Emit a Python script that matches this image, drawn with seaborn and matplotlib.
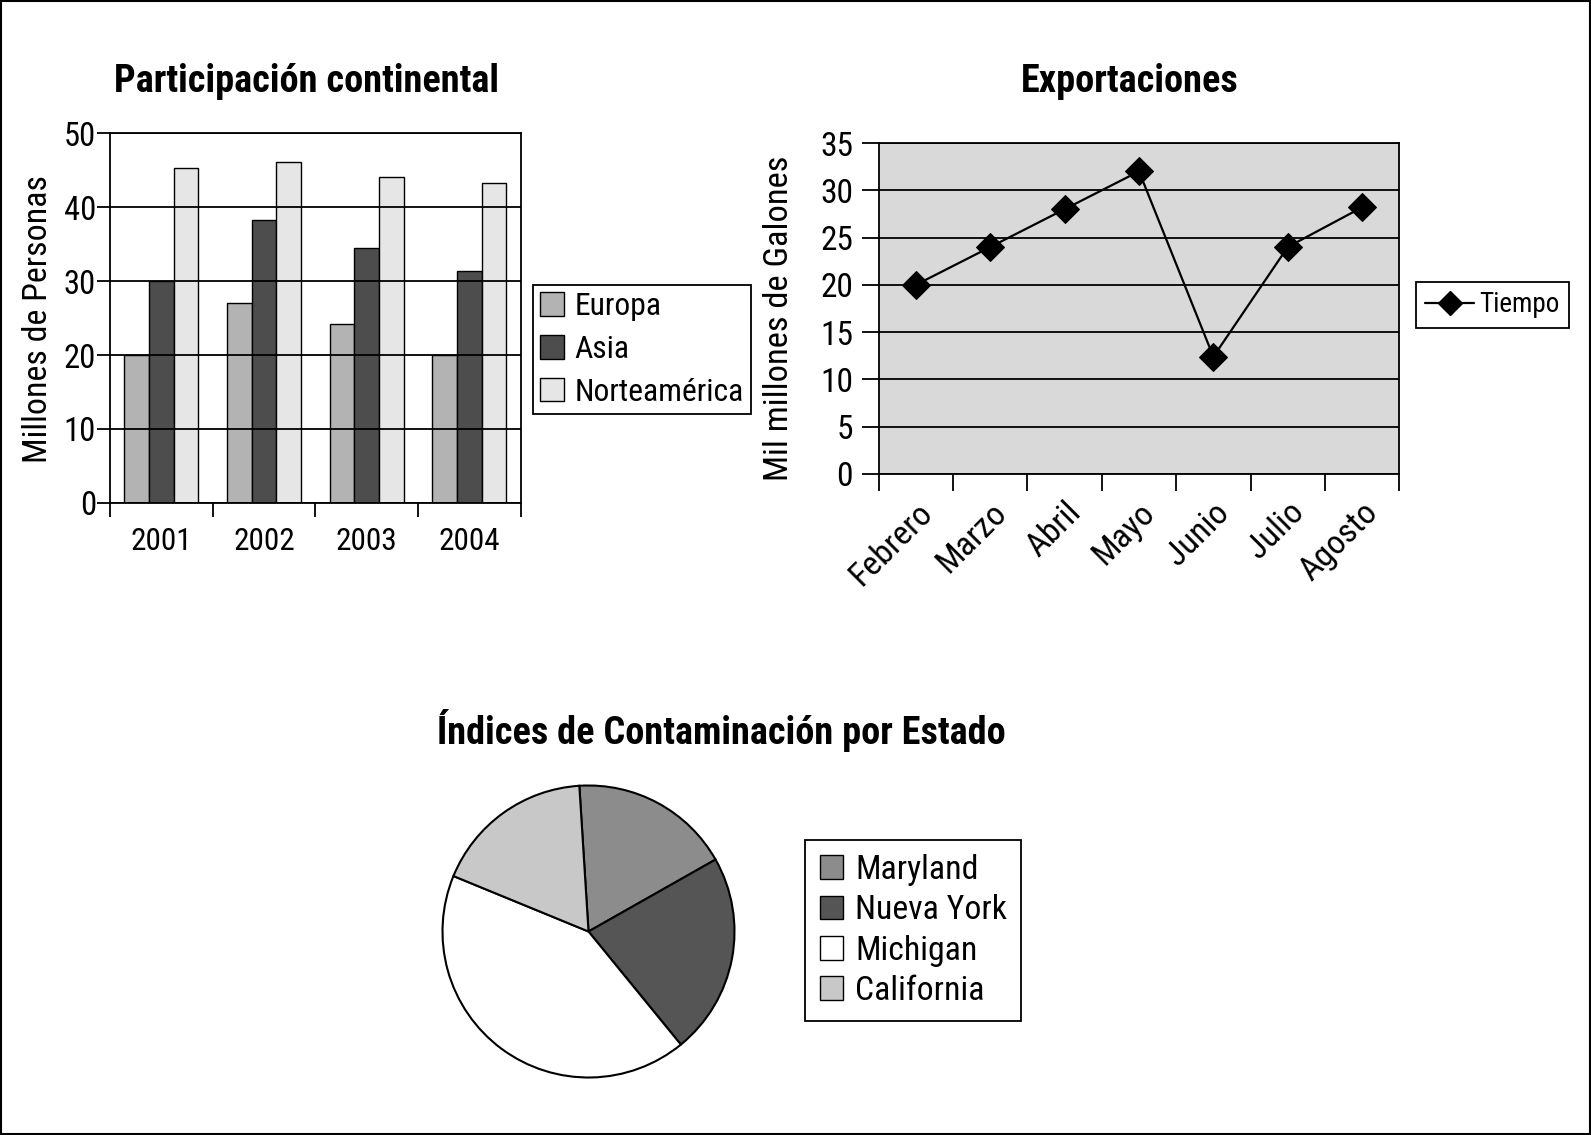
import numpy as np
import pandas as pd
import matplotlib
matplotlib.use("Agg")
import matplotlib.pyplot as plt
import seaborn as sns
from matplotlib import font_manager as fm
from matplotlib.patches import Rectangle, Patch
from matplotlib.lines import Line2D

# ---------------- data ----------------
years = ["2001", "2002", "2003", "2004"]
regions = ["Europa", "Asia", "Norteamérica"]
europa = [20, 27, 24.2, 20]
asia = [30, 38.2, 34.5, 31.3]
norteamerica = [45.3, 46.1, 44.1, 43.2]

months = ["Febrero", "Marzo", "Abril", "Mayo", "Junio", "Julio", "Agosto"]
tiempo = [20, 24, 28, 32, 12.4, 24, 28.2]

states = ["Maryland", "Nueva York", "Michigan", "California"]
indices = [17.8, 22.3, 42.1, 17.8]

bar_colors = ["#b3b3b3", "#4d4d4d", "#e6e6e6"]
pie_colors = ["#8c8c8c", "#555555", "#ffffff", "#c8c8c8"]

# ---------------- style ----------------
sns.set_theme(style="ticks")
avail = sorted({f.name for f in fm.fontManager.ttflist})
cond = None
for cand in ["Roboto Condensed", "Liberation Sans Narrow", "Open Sans Condensed",
             "Noto Sans Condensed", "DejaVu Sans Condensed"]:
    if cand in avail:
        cond = cand
        break
if cond is None:
    for n in avail:
        if "Narrow" in n or "Condensed" in n:
            cond = n
            break
if cond is None:
    cond = "DejaVu Sans"
plt.rcParams["font.family"] = [cond, "DejaVu Sans"]
plt.rcParams["text.color"] = "black"
plt.rcParams["axes.edgecolor"] = "black"
plt.rcParams["xtick.color"] = "black"
plt.rcParams["ytick.color"] = "black"

W, H = 1591, 1135
fig = plt.figure(figsize=(W / 100, H / 100), dpi=100)
fig.patch.set_facecolor("white")


def fx(px):
    return px / W


def fy(py):
    return 1 - py / H


TITLE = 27.5

# ---------------- bar chart ----------------
ax1 = fig.add_axes([fx(110), fy(503), fx(520.5 - 110), (503 - 133) / H])
df = pd.DataFrame({
    "year": years * 3,
    "region": [r for r in regions for _ in years],
    "value": europa + asia + norteamerica,
})
sns.barplot(data=df, x="year", y="value", hue="region", order=years, hue_order=regions,
            palette=bar_colors, width=0.72, saturation=1, edgecolor="black",
            linewidth=1.0, ax=ax1, legend=False, errorbar=None)
ax1.set_xlim(-0.5, 3.5)
ax1.set_ylim(0, 50)
ax1.set_yticks(np.arange(0, 51, 10))
ax1.set_xticks(np.arange(-0.5, 4, 1))
ax1.set_xticklabels([])
ax1.set_xticks(np.arange(0, 4), minor=True)
ax1.set_xticklabels(years, minor=True)
ax1.tick_params(axis="x", which="major", direction="out", length=10, width=1.3)
ax1.tick_params(axis="x", which="minor", length=0, pad=17, labelsize=22.5)
ax1.tick_params(axis="y", direction="out", length=9.5, width=1.3, labelsize=23.5, pad=0.5)
ax1.yaxis.grid(True, color="black", lw=1.3)
ax1.set_axisbelow(False)
for s in ax1.spines.values():
    s.set_visible(True)
    s.set_linewidth(1.3)
    s.set_color("black")
ax1.set_xlabel("")
ax1.set_ylabel("")
fig.text(fx(38), fy(319), "Millones de Personas", rotation=90, ha="center", va="center",
         fontsize=24.4)
fig.text(fx(307), fy(81), "Participación continental", ha="center", va="center",
         fontsize=TITLE, fontweight="bold")

h1 = [Patch(facecolor=c, edgecolor="black", lw=1.0) for c in bar_colors]
fig.legend(h1, regions, loc="center", bbox_to_anchor=(fx(641.8), fy(349.5)), fontsize=22.8,
           frameon=True, fancybox=False, edgecolor="black", framealpha=1,
           handlelength=0.75, handleheight=0.75, handletextpad=0.35, labelspacing=0.44,
           borderpad=0.22, borderaxespad=0).get_frame().set_linewidth(1.3)

# ---------------- line chart ----------------
ax2 = fig.add_axes([fx(878.7), fy(474), fx(1399.3 - 878.7), (474 - 143) / H])
ax2.set_facecolor("#d9d9d9")
dfl = pd.DataFrame({"mes": months, "valor": tiempo})
sns.lineplot(data=dfl, x="mes", y="valor", sort=False, color="black", lw=1.6,
             marker="D", markersize=14, markeredgecolor="black", ax=ax2, zorder=3)
ax2.set_xlim(-0.5, 6.5)
ax2.set_ylim(0, 35)
ax2.set_yticks(np.arange(0, 36, 5))
ax2.set_xticks(np.arange(-0.5, 7, 1))
ax2.set_xticklabels([])
ax2.set_xticks(np.arange(0, 7), minor=True)
ax2.set_xticklabels(months, minor=True, rotation=45, ha="right", rotation_mode="anchor")
ax2.tick_params(axis="x", which="major", direction="out", length=12, width=1.3)
ax2.tick_params(axis="x", which="minor", length=0, pad=16, labelsize=24.5)
ax2.tick_params(axis="y", direction="out", length=12, width=1.3, labelsize=24, pad=6.5)
ax2.yaxis.grid(True, color="black", lw=1.3, zorder=1)
ax2.set_axisbelow(True)
for s in ax2.spines.values():
    s.set_visible(True)
    s.set_linewidth(1.3)
    s.set_color("black")
ax2.set_xlabel("")
ax2.set_ylabel("")
fig.text(fx(779), fy(318), "Mil millones de Galones", rotation=90, ha="center", va="center",
         fontsize=24.8)
fig.text(fx(1130), fy(81), "Exportaciones", ha="center", va="center",
         fontsize=TITLE, fontweight="bold")
h2 = [Line2D([], [], color="black", lw=1.6, marker="D", markersize=12)]
fig.legend(h2, ["Tiempo"], loc="center", bbox_to_anchor=(fx(1492.6), fy(305)), fontsize=19.5,
           frameon=True, fancybox=False, edgecolor="black", framealpha=1,
           handlelength=1.8, handletextpad=0.2, borderpad=0.35,
           borderaxespad=0).get_frame().set_linewidth(1.3)

# ---------------- pie chart ----------------
R = 146
ax3 = fig.add_axes([fx(588.5 - R), fy(931.5 + R), 2 * R / W, 2 * R / H])
ax3.pie(indices, colors=pie_colors, startangle=93.6, counterclock=False,
        wedgeprops=dict(edgecolor="black", linewidth=1.5))
ax3.set_xlim(-1.0, 1.0)
ax3.set_ylim(-1.0, 1.0)
ax3.set_aspect("equal")
ax3.axis("off")
fig.text(fx(721), fy(731), "Índices de Contaminación por Estado", ha="center", va="center",
         fontsize=TITLE, fontweight="bold")
h3 = [Patch(facecolor=c, edgecolor="black", lw=1.0) for c in pie_colors]
fig.legend(h3, states, loc="center", bbox_to_anchor=(fx(913.3), fy(930.4)), fontsize=24.3,
           frameon=True, fancybox=False, edgecolor="black", framealpha=1,
           handlelength=0.7, handleheight=0.7, handletextpad=0.35, labelspacing=0.25,
           borderpad=0.42, borderaxespad=0).get_frame().set_linewidth(1.3)

# outer border
fig.add_artist(Rectangle((0.0008, 0.0012), 0.9984, 0.9976, transform=fig.transFigure,
                         fill=False, edgecolor="black", lw=1.5))

fig.savefig("out.png", dpi=100, facecolor="white")
